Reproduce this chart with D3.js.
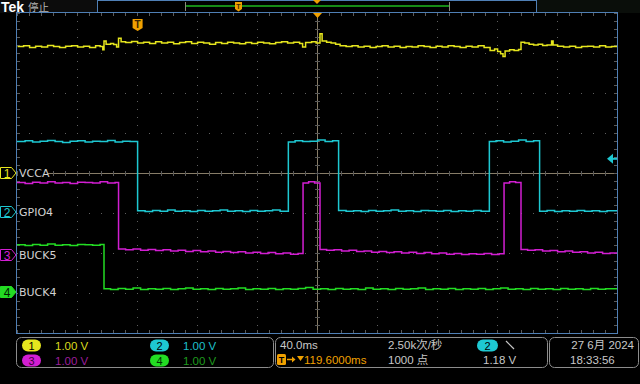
<!DOCTYPE html>
<html>
<head>
<meta charset="utf-8">
<script src="https://cdn.jsdelivr.net/npm/d3@7"></script>
<style>
  html, body { margin: 0; padding: 0; background: #000; }
  svg { display: block; }
  text { font-family: "Liberation Sans", Arial, "Noto Sans CJK SC", sans-serif; }
</style>
</head>
<body>
<div class="scope"></div>
<script>
// channel settings
const channelNames = ['VCCA', 'GPIO4', 'BUCK5', 'BUCK4']
const channelScales = ['1.00 V', '1.00 V', '1.00 V', '1.00 V']
const channelPositions = [0, -0.975, -2.05, -2.975] // divisions from centre

// timebase: 40 ms/div, trigger 119.6 ms left of centre
const timeDomain = [-80.4, 319.6]
const triggerTime = 0

// traces as [ms, volts]
const ch1Trace = [
  [-80, 3.16], [-76, 3.18], [-72, 3.14], [-68, 3.17], [-64, 3.15], [-60, 3.19], [-56, 3.16], [-52, 3.14],
  [-48, 3.17], [-44, 3.18], [-40, 3.15], [-36, 3.17], [-32, 3.14], [-28, 3.18], [-25, 3.16],
  [-23.2, 3.08], [-22.4, 3.3], [-21, 3.22], [-18, 3.24], [-16, 3.21], [-14, 3.15],
  [-12.7, 3.37], [-11, 3.28], [-8, 3.26], [-4, 3.29], [0, 3.25], [4, 3.27], [8, 3.24], [12, 3.28], [16, 3.25],
  [20, 3.27], [24, 3.23], [28, 3.26], [32, 3.28], [36, 3.24], [40, 3.27], [44, 3.25], [48, 3.22], [52, 3.26],
  [56, 3.24], [60, 3.27], [64, 3.25], [68, 3.23], [72, 3.26], [76, 3.24], [80, 3.27], [84, 3.25], [88, 3.23],
  [92, 3.26], [96, 3.28], [100, 3.25], [104, 3.27], [108, 3.24], [110, 3.15], [112, 3.26], [116, 3.28], [119, 3.25],
  [121.6, 3.48], [123, 3.3], [126, 3.27], [129, 3.25], [132, 3.22], [135, 3.18], [139, 3.16], [143, 3.18],
  [147, 3.15], [151, 3.17], [155, 3.14], [159, 3.16], [163, 3.18], [167, 3.15], [171, 3.17], [175, 3.14],
  [179, 3.16], [183, 3.15], [187, 3.18], [191, 3.16], [195, 3.14], [199, 3.17], [203, 3.15], [207, 3.18],
  [211, 3.16], [215, 3.14], [219, 3.17], [223, 3.15], [227, 3.18], [231, 3.14],
  [235, 3.06], [238, 3.1], [240, 3.04], [242, 2.98], [243.6, 2.91], [245, 3.05], [248, 3.08], [251, 3.06], [254, 3.09],
  [255.6, 3.27], [258, 3.25], [261, 3.22], [264, 3.2], [267, 3.22], [270, 3.19], [273, 3.2], [276, 3.3], [277, 3.2],
  [280, 3.17], [284, 3.15], [288, 3.17], [292, 3.14], [296, 3.16], [300, 3.17], [304, 3.15], [308, 3.18],
  [312, 3.15], [316, 3.16], [319.6, 3.16]
]

const ch2Trace = [
  [-80.4, 1.76], [-75, 1.78], [-70, 1.75], [-65, 1.77], [-60, 1.79], [-55, 1.76], [-50, 1.74], [-45, 1.77],
  [-40, 1.78], [-35, 1.75], [-30, 1.77], [-25, 1.76], [-20, 1.79], [-15, 1.75], [-10, 1.77], [-5, 1.76],
  [0, 0.03], [5, 0.01], [10, 0.04], [15, 0.02], [20, 0.05], [25, 0.02], [30, 0.03], [35, 0.01], [40, 0.04],
  [45, 0.02], [50, 0.03], [55, 0.05], [60, 0.02], [65, 0.03], [70, 0.01], [75, 0.04], [80, 0.02], [85, 0.03],
  [90, 0.05], [95, 0.02],
  [100.5, 1.75], [105, 1.78], [110, 1.76], [115, 1.77], [120, 1.8], [125, 1.76], [130, 1.78],
  [134, 0.04], [139, 0.02], [144, 0.03], [149, 0.01], [154, 0.04], [159, 0.02], [164, 0.03], [169, 0.05],
  [174, 0.02], [179, 0.03], [184, 0.01], [189, 0.04], [194, 0.03], [199, 0.02], [204, 0.04], [209, 0.01],
  [214, 0.03], [219, 0.02], [224, 0.04], [229, 0.02],
  [234.5, 1.76], [239, 1.78], [244, 1.75], [249, 1.77], [254, 1.8], [259, 1.76], [264, 1.78],
  [268, 0.02], [273, 0.04], [278, 0.01], [283, 0.03], [288, 0.02], [293, 0.04], [298, 0.02], [303, 0.03],
  [308, 0.01], [313, 0.03], [319.6, 0.03]
]

const ch3Trace = [
  [-80.4, 1.81], [-75, 1.79], [-70, 1.82], [-65, 1.8], [-60, 1.83], [-55, 1.8], [-50, 1.81], [-45, 1.79],
  [-40, 1.82], [-35, 1.81], [-30, 1.8], [-25, 1.83], [-20, 1.8], [-15, 1.81],
  [-12.7, 0.15], [-8, 0.13], [-3, 0.15], [2, 0.12], [7, 0.14], [12, 0.11], [17, 0.13], [22, 0.1], [27, 0.12],
  [32, 0.09], [37, 0.11], [42, 0.08], [47, 0.1], [52, 0.07], [57, 0.09], [62, 0.06], [67, 0.08], [72, 0.05],
  [77, 0.07], [82, 0.04], [87, 0.06], [92, 0.03], [97, 0.05], [102, 0.02], [107, 0.04],
  [110.3, 1.8], [114, 1.83], [118, 1.8],
  [121.6, 0.14], [126, 0.12], [131, 0.13], [136, 0.1], [141, 0.12], [146, 0.09], [151, 0.1], [156, 0.07],
  [161, 0.09], [166, 0.06], [171, 0.08], [176, 0.05], [181, 0.07], [186, 0.04], [191, 0.06], [196, 0.03],
  [201, 0.05], [206, 0.02], [211, 0.04], [216, 0.01], [221, 0.03], [226, 0.02], [231, 0.04], [236, 0.01], [241, 0.03],
  [244.3, 1.8], [248, 1.83], [252, 1.81],
  [255.6, 0.14], [260, 0.12], [265, 0.13], [270, 0.1], [275, 0.11], [280, 0.08], [285, 0.1], [290, 0.07],
  [295, 0.08], [300, 0.05], [305, 0.07], [310, 0.04], [315, 0.05], [319.6, 0.05]
]

const ch4Trace = [
  [-80.4, 1.18], [-75, 1.16], [-70, 1.19], [-65, 1.17], [-60, 1.2], [-55, 1.17], [-50, 1.18], [-45, 1.16],
  [-40, 1.19], [-35, 1.18], [-30, 1.17], [-25, 1.19],
  [-22.4, 0.08], [-18, 0.06], [-13, 0.09], [-8, 0.07], [-3, 0.1], [2, 0.06], [7, 0.08], [12, 0.07], [17, 0.09],
  [22, 0.06], [27, 0.08], [32, 0.1], [37, 0.07], [42, 0.08], [47, 0.06], [52, 0.09], [57, 0.07], [62, 0.08],
  [67, 0.1], [72, 0.06], [77, 0.08], [82, 0.07], [87, 0.09], [92, 0.06], [97, 0.08], [102, 0.07], [107, 0.09],
  [112, 0.11], [117, 0.07], [122, 0.08], [127, 0.06], [132, 0.09], [137, 0.07], [142, 0.08], [147, 0.06],
  [152, 0.1], [157, 0.07], [162, 0.08], [167, 0.06], [172, 0.09], [177, 0.07], [182, 0.08], [187, 0.1],
  [192, 0.06], [197, 0.08], [202, 0.07], [207, 0.09], [212, 0.06], [217, 0.08], [222, 0.07], [227, 0.09],
  [232, 0.06], [237, 0.08], [242, 0.1], [247, 0.07], [252, 0.08], [257, 0.06], [262, 0.09], [267, 0.07],
  [272, 0.08], [277, 0.06], [282, 0.09], [287, 0.07], [292, 0.08], [297, 0.06], [302, 0.09], [307, 0.07],
  [312, 0.08], [319.6, 0.08]
]

// readouts
const readTimebase = '40.0ms'
const readDelay = '119.6000ms'
const readRate = '2.50k次/秒'
const readPoints = '1000 点'
const readTrigLevel = '1.18 V'
const readDate = '27 6月 2024'
const readClock = '18:33:56'

const drawScope = () => {
  const width = 640
  const height = 384
  const plot = { left: 17, right: 617, top: 13, bottom: 333 }
  const colors = ['#e6e61e', '#1ec8d2', '#d21ed2', '#23dc23']
  const dimColors = ['#dcdc1e', '#1ec0cc', '#9a1e9a', '#1e9a1e']
  const grey = '#c8c8c8'
  const orange = '#f0a000'
  const traces = [ch1Trace, ch2Trace, ch3Trace, ch4Trace]

  const xScale = d3.scaleLinear().domain(timeDomain).range([plot.left, plot.right])
  const yScale = d3.scaleLinear().domain([-4, 4]).range([plot.bottom, plot.top])
  const xDiv = d3.scaleLinear().domain([0, 10]).range([plot.left, plot.right])
  const yDiv = d3.scaleLinear().domain([0, 8]).range([plot.top, plot.bottom])

  d3.selectAll('.scope > *').remove()
  const svg = d3.select('.scope').append('svg')
    .attr('width', width)
    .attr('height', height)

  svg.append('rect').attr('width', width).attr('height', height).attr('fill', '#000')

  // ---- top status bar
  svg.append('rect').attr('x', 0).attr('y', 0).attr('width', 97).attr('height', 13).attr('fill', '#0c0c0c')
  svg.append('rect').attr('x', 537).attr('y', 0).attr('width', 103).attr('height', 13).attr('fill', '#0a0e0a')
  svg.append('text').attr('x', 1).attr('y', 11.5).attr('fill', '#fff')
    .attr('font-size', 14).attr('font-weight', 'bold').text('Tek')
  svg.append('text').attr('x', 28).attr('y', 11).attr('fill', '#b4b4b4')
    .attr('font-size', 10.5).style('font-family', '"Noto Sans CJK SC", sans-serif').text('停止')
  svg.append('rect').attr('x', 97.5).attr('y', 0.5).attr('width', 439).attr('height', 12)
    .attr('fill', 'none').attr('stroke', '#4f7fb5')
  svg.append('line').attr('x1', 186).attr('x2', 449).attr('y1', 6).attr('y2', 6)
    .attr('stroke', '#168a16').attr('stroke-width', 2)
  ;[185.5, 449.5].forEach(x => {
    svg.append('line').attr('x1', x).attr('x2', x).attr('y1', 2).attr('y2', 11).attr('stroke', '#8a8a7a')
  })
  // small trigger marker in record view
  svg.append('path').attr('d', 'M235,2 h7 v7 l-3.5,2.5 l-3.5,-2.5 z').attr('fill', orange)
  svg.append('text').attr('x', 238.5).attr('y', 9).attr('text-anchor', 'middle')
    .attr('font-size', 7).attr('font-weight', 'bold').attr('fill', '#402800').text('T')
  svg.append('path').attr('d', 'M313,0 h8 l-4,4 z').attr('fill', orange)

  // ---- graticule
  const g = svg.append('g')
  const dotColor = '#5e5e5e'
  d3.range(1, 8).filter(k => k !== 4).forEach(k => {
    d3.range(0, 51).forEach(i => {
      g.append('rect').attr('x', xDiv(i / 5)).attr('y', yDiv(k)).attr('width', 1).attr('height', 1).attr('fill', dotColor)
    })
  })
  d3.range(1, 10).filter(k => k !== 5).forEach(k => {
    d3.range(0, 41).forEach(i => {
      g.append('rect').attr('x', xDiv(k)).attr('y', yDiv(i / 5)).attr('width', 1).attr('height', 1).attr('fill', dotColor)
    })
  })

  // centre crosshair
  const cross = '#877d68'
  g.append('line').attr('x1', plot.left).attr('x2', plot.right).attr('y1', yDiv(4) + 0.5).attr('y2', yDiv(4) + 0.5)
    .attr('stroke', cross)
  g.append('line').attr('x1', xDiv(5) + 0.5).attr('x2', xDiv(5) + 0.5).attr('y1', plot.top).attr('y2', plot.bottom)
    .attr('stroke', cross)
  d3.range(0, 51).forEach(i => {
    const x = xDiv(i / 5) + 0.5
    g.append('line').attr('x1', x).attr('x2', x).attr('y1', yDiv(4) - 2).attr('y2', yDiv(4) + 3).attr('stroke', '#5a5a5a')
    g.append('line').attr('x1', x).attr('x2', x).attr('y1', plot.top).attr('y2', plot.top + 3).attr('stroke', '#5a5a5a')
    g.append('line').attr('x1', x).attr('x2', x).attr('y1', plot.bottom - 3).attr('y2', plot.bottom).attr('stroke', '#5a5a5a')
  })
  d3.range(0, 41).forEach(i => {
    const y = yDiv(i / 5) + 0.5
    g.append('line').attr('x1', xDiv(5) - 2).attr('x2', xDiv(5) + 3).attr('y1', y).attr('y2', y).attr('stroke', '#5a5a5a')
    g.append('line').attr('x1', plot.left).attr('x2', plot.left + 3).attr('y1', y).attr('y2', y).attr('stroke', '#5a5a5a')
    g.append('line').attr('x1', plot.right - 3).attr('x2', plot.right).attr('y1', y).attr('y2', y).attr('stroke', '#5a5a5a')
  })

  g.append('rect').attr('x', plot.left - 0.5).attr('y', plot.top - 0.5)
    .attr('width', plot.right - plot.left + 1).attr('height', plot.bottom - plot.top + 1)
    .attr('fill', 'none').attr('stroke', '#4f7fb5')

  // ---- traces
  traces.forEach((trace, i) => {
    const line = d3.line()
      .x(d => xScale(d[0]))
      .y(d => yScale(d[1] + channelPositions[i]))
      .curve(d3.curveStepAfter)
    svg.append('path')
      .datum(trace)
      .attr('fill', 'none')
      .attr('stroke', colors[i])
      .attr('stroke-width', 1.5)
      .attr('d', line)
  })

  // trigger markers
  const tx = xScale(triggerTime)
  svg.append('path').attr('d', `M${tx - 5},19 h10 v9 l-5,3 l-5,-3 z`).attr('fill', orange)
  svg.append('text').attr('x', tx).attr('y', 28).attr('text-anchor', 'middle')
    .attr('font-size', 10).attr('font-weight', 'bold').attr('fill', '#3a2400').text('T')
  svg.append('path').attr('d', `M${xDiv(5) - 4},${plot.top} h9 l-4.5,5 z`).attr('fill', orange)
  // trigger level (ch2)
  const ty = yScale(1.18 + channelPositions[1]) - 6
  svg.append('path').attr('d', `M607,${ty} l6,-5 v10 z`).attr('fill', colors[1])
  svg.append('line').attr('x1', 612).attr('x2', 617).attr('y1', ty).attr('y2', ty)
    .attr('stroke', colors[1]).attr('stroke-width', 2)

  // ---- channel markers and labels
  channelNames.forEach((name, i) => {
    const y = yScale(channelPositions[i])
    const filled = i === 3
    svg.append('path')
      .attr('d', `M0.5,${y - 5.5} h11 l4.5,5.5 l-4.5,5.5 h-11 z`)
      .attr('fill', filled ? colors[i] : '#000')
      .attr('stroke', colors[i])
    svg.append('text').attr('x', 7).attr('y', y + 4.5).attr('text-anchor', 'middle')
      .attr('font-size', 12).attr('fill', filled ? '#002000' : colors[i]).text(i + 1)
    svg.append('rect').attr('x', 18).attr('y', y - 6).attr('width', name.length * 7 + 2).attr('height', 12).attr('fill', '#000')
    svg.append('text').attr('x', 19).attr('y', y + 4).attr('font-size', 11)
      .attr('fill', '#d2d2d2').style('font-family', '"DejaVu Sans", sans-serif').text(name)
  })

  // ---- bottom readout panels
  const panel = (x, w) => svg.append('rect')
    .attr('x', x + 0.5).attr('y', 337.5).attr('width', w).attr('height', 30).attr('rx', 5)
    .attr('fill', '#000').attr('stroke', '#8c8c8c')
  panel(16, 257)
  panel(275, 272)
  panel(549, 89)

  const badge = (x, y, i, label) => {
    svg.append('rect').attr('x', x).attr('y', y).attr('width', 19).attr('height', 12).attr('rx', 6)
      .attr('fill', colors[i])
    svg.append('text').attr('x', x + 9.5).attr('y', y + 10).attr('text-anchor', 'middle')
      .attr('font-size', 11).attr('fill', i === 2 ? '#3a003a' : i === 3 ? '#003000' : '#000').text(label)
  }
  const text = (x, y, s, fill) => svg.append('text').attr('x', x).attr('y', y)
    .attr('font-size', 11.5).attr('fill', fill).text(s)

  const slots = [[22, 339.5], [150, 339.5], [22, 354.5], [150, 354.5]]
  slots.forEach((s, i) => {
    badge(s[0], s[1], i, i + 1)
    text(s[0] + 33, s[1] + 10, channelScales[i], dimColors[i])
  })

  text(280, 349, readTimebase, grey)
  svg.append('rect').attr('x', 277).attr('y', 354).attr('width', 9).attr('height', 11).attr('rx', 1.5).attr('fill', orange)
  svg.append('text').attr('x', 281.5).attr('y', 363).attr('text-anchor', 'middle').attr('font-size', 9)
    .attr('font-weight', 'bold').attr('fill', '#000').text('T')
  svg.append('line').attr('x1', 287).attr('x2', 293).attr('y1', 359.5).attr('y2', 359.5)
    .attr('stroke', orange).attr('stroke-width', 1.5)
  svg.append('path').attr('d', 'M292,356.5 l3.5,3 l-3.5,3 z').attr('fill', orange)
  svg.append('path').attr('d', 'M297,356 h7 l-3.5,5 z').attr('fill', orange)
  text(304, 364, readDelay, orange)
  text(388, 349, readRate, grey).style('font-family', '"Liberation Sans", "Noto Sans CJK SC", sans-serif')
  text(388, 364, readPoints, grey).style('font-family', '"Liberation Sans", "Noto Sans CJK SC", sans-serif')
  svg.append('rect').attr('x', 477).attr('y', 339.5).attr('width', 21).attr('height', 12).attr('rx', 6).attr('fill', colors[1])
  svg.append('text').attr('x', 487.5).attr('y', 349.5).attr('text-anchor', 'middle').attr('font-size', 11).attr('fill', '#000').text('2')
  svg.append('line').attr('x1', 506).attr('x2', 514).attr('y1', 341).attr('y2', 349).attr('stroke', grey).attr('stroke-width', 1.2)
  text(483, 364, readTrigLevel, grey)

  text(634, 349, readDate, grey).attr('text-anchor', 'end').style('font-family', '"Liberation Sans", "Noto Sans CJK SC", sans-serif')
  text(570, 364, readClock, grey)
}

drawScope()
</script>
</body>
</html>
